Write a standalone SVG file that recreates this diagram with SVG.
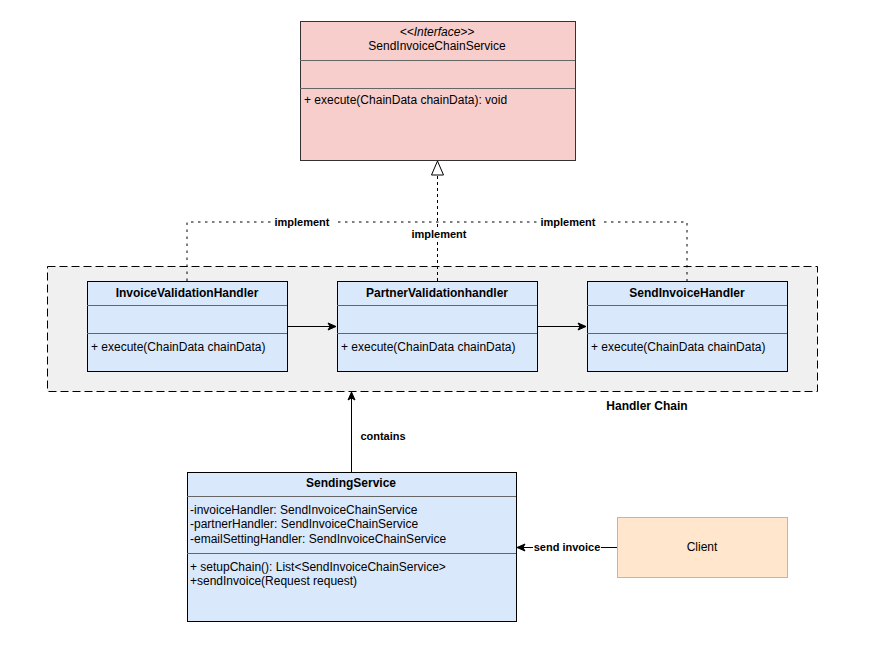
<svg xmlns="http://www.w3.org/2000/svg" width="895" height="657" viewBox="0 0 895 657">
<defs>
<style>
text{font-family:"Liberation Sans",Arial,sans-serif;font-size:12px;fill:#000}
.b{font-weight:bold}
.c{text-anchor:middle}
.lbl{font-size:11px;font-weight:bold;text-anchor:middle}
.blue{fill:#dae8fc;stroke:#000;stroke-width:1}
.sep{stroke:#666;stroke-width:1}
.conn{fill:none;stroke:#000;stroke-width:1}
</style>
<marker id="arr" markerWidth="10" markerHeight="10" refX="9" refY="5" orient="auto" markerUnits="userSpaceOnUse">
<path d="M1,1.5 L9,5 L1,8.5 L3,5 Z" fill="#000" stroke="#000"/>
</marker>
<marker id="tri" markerWidth="16" markerHeight="16" refX="15" refY="7" orient="auto" markerUnits="userSpaceOnUse">
<path d="M1,1 L15,7 L1,13 Z" fill="#fff" stroke="#000"/>
</marker>
</defs>
<rect width="895" height="657" fill="#fff"/>

<g id="handler-chain">
<rect x="47.5" y="266.5" width="770" height="125" fill="#f0f0f0" stroke="#000" stroke-dasharray="8,4"/>
<text x="647" y="410" class="b c">Handler Chain</text>
</g>

<g id="connectors">
<path class="conn" d="M187,281 V222 H687 V281" stroke-dasharray="2.5,4.5" stroke-width="2.5"/>
<rect x="272" y="215" width="62" height="14" fill="#fff"/>
<text x="302" y="226" class="lbl">implement</text>
<rect x="538" y="215" width="62" height="14" fill="#fff"/>
<text x="568" y="226" class="lbl">implement</text>
<path class="conn" d="M437.5,281 V161" stroke-dasharray="3,3" marker-end="url(#tri)"/>
<rect x="408" y="227" width="62" height="14" fill="#fff"/>
<text x="439" y="238" class="lbl">implement</text>
<path class="conn" d="M287,326.5 H336" marker-end="url(#arr)"/>
<path class="conn" d="M537,326.5 H586" marker-end="url(#arr)"/>
<path class="conn" d="M351.5,472 V392" marker-end="url(#arr)"/>
<text x="383" y="440" class="lbl">contains</text>
<path class="conn" d="M617,547.5 H517" marker-end="url(#arr)"/>
<rect x="533" y="540" width="68" height="14" fill="#fff"/>
<text x="567" y="551" class="lbl">send invoice</text>
</g>

<g id="SendInvoiceChainService">
<rect x="300.5" y="21.5" width="275" height="139" fill="#f8cecc" stroke="#333"/>
<line class="sep" x1="300" y1="60.5" x2="575" y2="60.5"/>
<line class="sep" x1="300" y1="88.5" x2="575" y2="88.5"/>
<text x="437" y="36" class="c" font-style="italic">&lt;&lt;Interface&gt;&gt;</text>
<text x="437" y="50" class="c">SendInvoiceChainService</text>
<text x="304" y="104">+ execute(ChainData chainData): void</text>
</g>

<g id="InvoiceValidationHandler">
<rect class="blue" x="87.5" y="281.5" width="200" height="90"/>
<line class="sep" x1="87" y1="305.5" x2="287" y2="305.5"/>
<line class="sep" x1="87" y1="333.5" x2="287" y2="333.5"/>
<text x="187" y="297" class="b c">InvoiceValidationHandler</text>
<text x="91" y="351">+ execute(ChainData chainData)</text>
</g>

<g id="PartnerValidationhandler">
<rect class="blue" x="337.5" y="281.5" width="200" height="90"/>
<line class="sep" x1="337" y1="305.5" x2="537" y2="305.5"/>
<line class="sep" x1="337" y1="333.5" x2="537" y2="333.5"/>
<text x="437" y="297" class="b c">PartnerValidationhandler</text>
<text x="341" y="351">+ execute(ChainData chainData)</text>
</g>

<g id="SendInvoiceHandler">
<rect class="blue" x="587.5" y="281.5" width="200" height="90"/>
<line class="sep" x1="587" y1="305.5" x2="787" y2="305.5"/>
<line class="sep" x1="587" y1="333.5" x2="787" y2="333.5"/>
<text x="687" y="297" class="b c">SendInvoiceHandler</text>
<text x="591" y="351">+ execute(ChainData chainData)</text>
</g>

<g id="SendingService">
<rect class="blue" x="187.5" y="472.5" width="329" height="149"/>
<line class="sep" x1="187" y1="496.5" x2="516" y2="496.5"/>
<line class="sep" x1="187" y1="553.5" x2="516" y2="553.5"/>
<text x="351" y="487" class="b c">SendingService</text>
<text x="190" y="514">-invoiceHandler: SendInvoiceChainService</text>
<text x="190" y="528">-partnerHandler: SendInvoiceChainService</text>
<text x="190" y="543">-emailSettingHandler: SendInvoiceChainService</text>
<text x="190" y="571">+ setupChain(): List&lt;SendInvoiceChainService&gt;</text>
<text x="190" y="585">+sendInvoice(Request request)</text>
</g>

<g id="Client">
<rect x="617.5" y="517.5" width="170" height="60" fill="#ffe6cc" stroke="#c9b59f"/>
<text x="702" y="551" class="c">Client</text>
</g>
</svg>
